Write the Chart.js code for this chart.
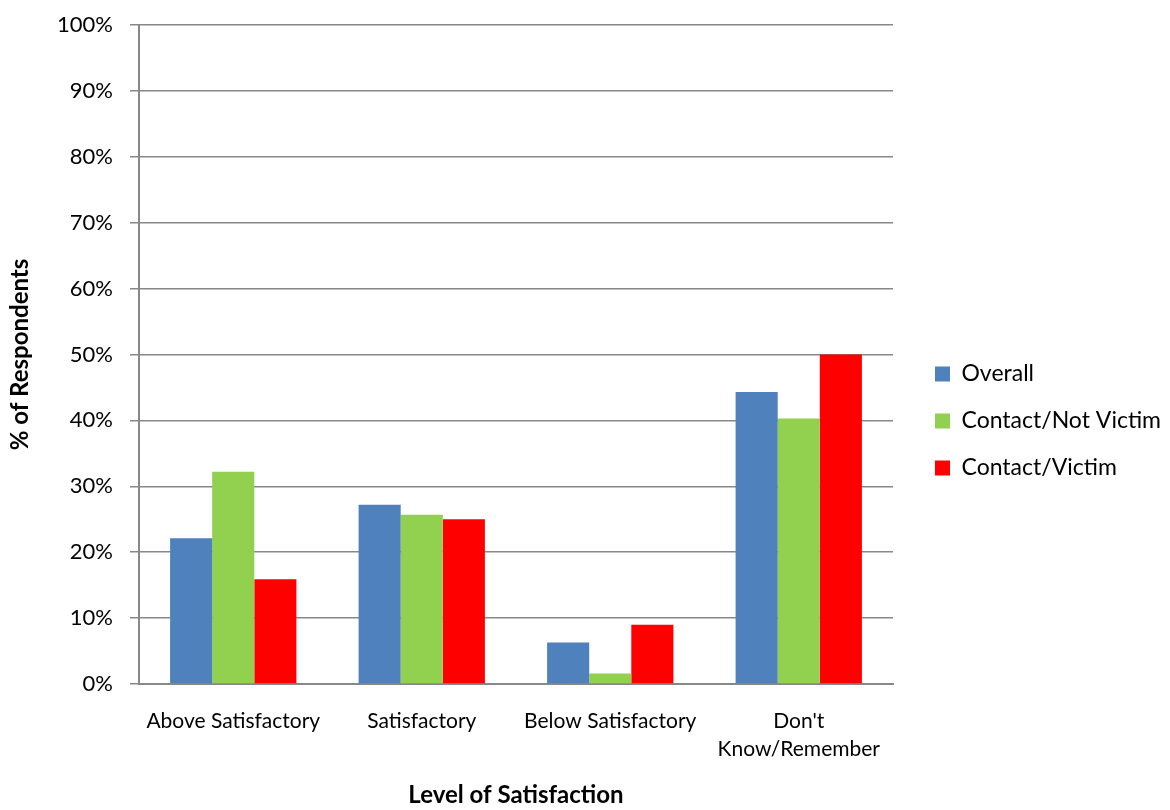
<!DOCTYPE html>
<html>
<head>
<meta charset="utf-8">
<script src="https://cdn.jsdelivr.net/npm/chart.js@4/dist/chart.umd.min.js"></script>
<style>
  html, body { margin: 0; padding: 0; background: #fff; }
  #wrap { width: 1170px; height: 810px; }
</style>
</head>
<body>
<div id="wrap"><canvas id="chart" width="1170" height="810"></canvas></div>
<script>
// categories and series (percent of respondents)
const categories = ["Above Satisfactory", "Satisfactory", "Below Satisfactory", ["Don't", "Know/Remember"]];
const overall = [22.1, 27.2, 6.3, 44.3];
const contactNotVictim = [32.2, 25.7, 1.6, 40.3];
const contactVictim = [15.9, 25.0, 9.0, 50.0];
const seriesNames = ["Overall", "Contact/Not Victim", "Contact/Victim"];
const seriesColors = ["#4f81bd", "#92d050", "#ff0000"];

const fontFamily = "Lato, 'Open Sans', sans-serif";
const gridGray = "#888888";

// plot box of the reference picture
const plotLeft = 139, plotRight = 893, plotTop = 25, plotBottom = 684;
const legendBoxX = 935, legendMidY = 421;

// keep the legend column at a fixed width and move it where the reference has it
const legendPlacer = {
  id: "legendPlacer",
  afterInit(chart) {
    const legend = chart.legend;
    const origFit = legend.fit;
    legend.fit = function() {
      origFit.call(this);
      this.width = chart.width - plotRight;
    };
  },
  afterLayout(chart) {
    const legend = chart.legend;
    const pad = legend.options.labels.padding;
    const dx = legendBoxX - (legend.left + pad);
    const dy = legendMidY - (legend.top + legend.bottom) / 2;
    legend.left += dx; legend.right += dx;
    legend.top += dy; legend.bottom += dy;
  }
};

const ctx = document.getElementById("chart").getContext("2d");

new Chart(ctx, {
  type: "bar",
  data: {
    labels: categories,
    datasets: [overall, contactNotVictim, contactVictim].map((vals, i) => ({
      label: seriesNames[i],
      data: vals,
      backgroundColor: seriesColors[i],
      borderWidth: 0,
      categoryPercentage: 0.67,
      barPercentage: 1.0
    }))
  },
  plugins: [legendPlacer],
  options: {
    responsive: false,
    animation: false,
    layout: { padding: { top: plotTop, left: 0, right: 0, bottom: 0 } },
    plugins: {
      tooltip: { enabled: false },
      legend: {
        position: "right",
        align: "center",
        labels: {
          boxWidth: 15,
          boxHeight: 15,
          padding: 24,
          color: "#000",
          font: { family: fontFamily, size: 23 }
        }
      }
    },
    scales: {
      x: {
        afterFit: scale => {
          scale.height = 810 - plotBottom;
          scale.paddingLeft = 0; scale.paddingRight = 0;
        },
        grid: { display: false, drawTicks: false },
        border: { color: gridGray, width: 2 },
        ticks: {
          color: "#000",
          padding: 23,
          maxRotation: 0,
          font: { family: fontFamily, size: 21, lineHeight: 1.35 }
        },
        title: {
          display: true,
          text: "Level of Satisfaction",
          color: "#000",
          padding: { top: 0, bottom: 0 },
          font: { family: fontFamily, size: 24, weight: "bold" }
        }
      },
      y: {
        min: 0,
        max: 100,
        afterFit: scale => {
          scale.width = plotLeft;
          scale.paddingTop = 0; scale.paddingBottom = 0;
        },
        ticks: {
          stepSize: 10,
          color: "#000",
          padding: 17,
          font: { family: fontFamily, size: 22 },
          callback: v => v + "%"
        },
        grid: { color: gridGray, lineWidth: 1.5, tickLength: 9 },
        border: { color: gridGray, width: 2 },
        title: {
          display: true,
          text: "% of Respondents",
          color: "#000",
          padding: { top: 6, bottom: 6 },
          font: { family: fontFamily, size: 24, weight: "bold" }
        }
      }
    }
  }
});
</script>
</body>
</html>
